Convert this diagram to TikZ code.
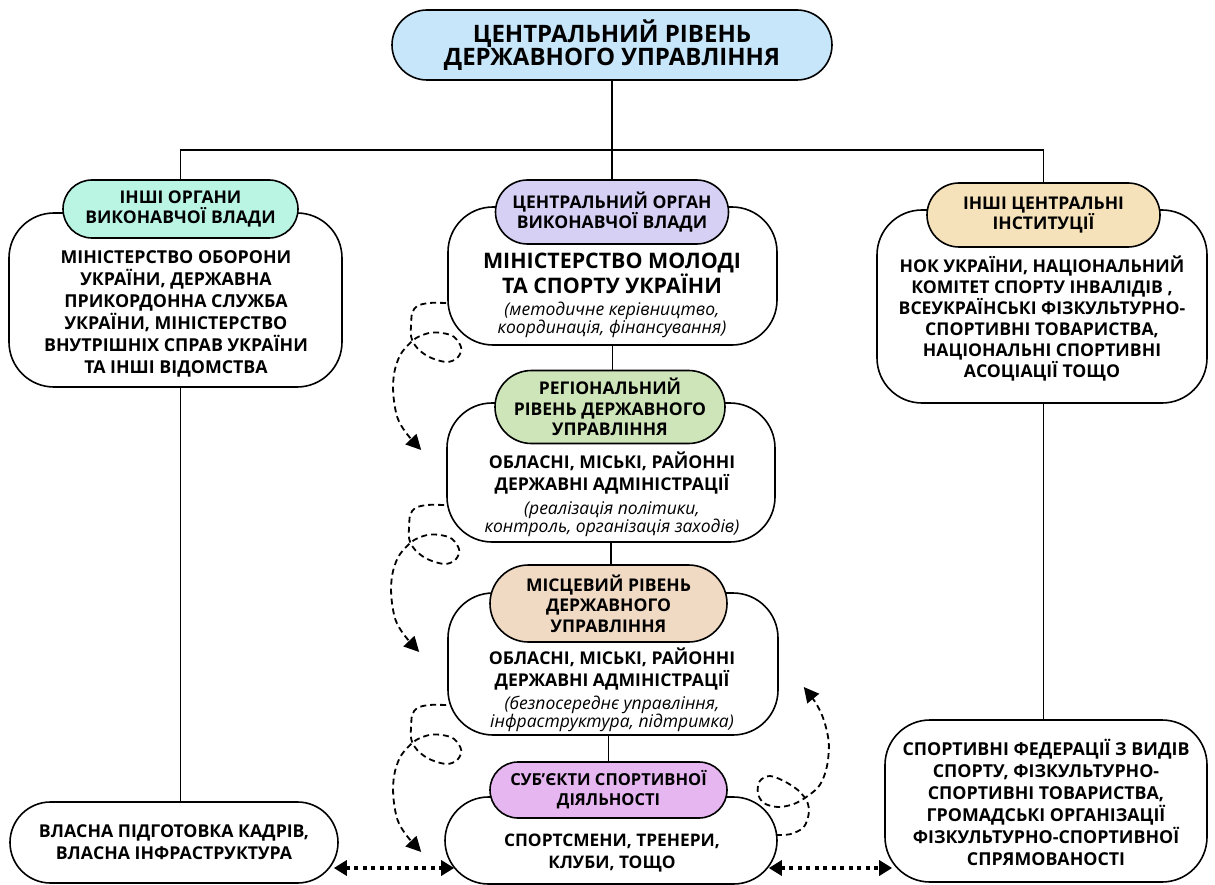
\documentclass[tikz,border=0pt]{standalone}
\usepackage{fontspec}
\setmainfont{Open Sans}
\usetikzlibrary{shapes.misc,arrows.meta,positioning,calc}
\definecolor{toplevel}{RGB}{199,230,250}
\definecolor{otherexec}{RGB}{186,245,228}
\definecolor{ministry}{RGB}{214,208,245}
\definecolor{regional}{RGB}{206,229,185}
\definecolor{local}{RGB}{240,218,196}
\definecolor{subjects}{RGB}{230,182,240}
\definecolor{institut}{RGB}{245,226,186}

\begin{document}
\begin{tikzpicture}[
    x=1pt, y=-1pt,
    pill/.style={draw, line width=1.6pt, rounded rectangle, align=center, inner sep=0pt,
        font=\fontsize{17.5}{20.5}\selectfont\bfseries},
    body/.style={draw, line width=1.6pt, rounded corners=45pt, fill=white},
    txt/.style={align=center, font=\fontsize{17.8}{22}\selectfont\bfseries},
    midtxt/.style={align=center, font=\fontsize{17.6}{21.5}\selectfont\bfseries},
    note/.style={align=center, font=\fontsize{17.5}{18.5}\selectfont\itshape},
    line/.style={line width=1.6pt},
    dotarrow/.style={<->, >={Triangle[length=13pt,width=15pt]}, line width=4pt, dash pattern=on 4pt off 4.5pt},
    curl/.style={->, >={Triangle[length=15pt,width=15pt]}, line width=1.8pt, dash pattern=on 6pt off 4pt}
]
    \useasboundingbox (0,0) rectangle (1215,885);

    % Top level
    \node[pill, fill=toplevel, minimum width=440pt, minimum height=70pt,
          font=\fontsize{24}{23}\selectfont\bfseries] (top) at (612,45)
          {ЦЕНТРАЛЬНИЙ РІВЕНЬ\\ДЕРЖАВНОГО УПРАВЛІННЯ};
    \coordinate (bus) at (612,150);

    % Left branch
    \node[body, minimum width=333pt, minimum height=174pt] (bl) at (175.5,300) {};
    \node[txt] (tl) at (176,314) {МІНІСТЕРСТВО ОБОРОНИ\\УКРАЇНИ, ДЕРЖАВНА\\ПРИКОРДОННА СЛУЖБА\\УКРАЇНИ, МІНІСТЕРСТВО\\ВНУТРІШНІХ СПРАВ УКРАЇНИ\\ТА ІНШІ ВІДОМСТВА};
    \node[pill, fill=otherexec, minimum width=235pt, minimum height=58pt] (hl) at (180.5,209) {ІНШІ ОРГАНИ\\ВИКОНАВЧОЇ ВЛАДИ};
    \node[pill, fill=white, minimum width=328pt, minimum height=81pt,
          font=\fontsize{17.7}{22}\selectfont\bfseries] (lb) at (174,842.5)
          {ВЛАСНА ПІДГОТОВКА КАДРІВ,\\ВЛАСНА ІНФРАСТРУКТУРА};

    % Middle branch
    \node[body, minimum width=329pt, minimum height=138pt] (b1) at (612.5,276) {};
    \node[txt, font=\fontsize{21.4}{25}\selectfont\bfseries] (t1) at (612,273) {МІНІСТЕРСТВО МОЛОДІ\\ТА СПОРТУ УКРАЇНИ};
    \node[note] (n1) at (612,320) {(методичне керівництво,\\координація, фінансування)};
    \node[pill, fill=ministry, minimum width=233pt, minimum height=64pt] (h1) at (612,212) {ЦЕНТРАЛЬНИЙ ОРГАН\\ВИКОНАВЧОЇ ВЛАДИ};

    \node[body, minimum width=328pt, minimum height=139pt] (b2) at (611,472.5) {};
    \node[midtxt] (t2) at (612,473) {ОБЛАСНІ, МІСЬКІ, РАЙОННІ\\ДЕРЖАВНІ АДМІНІСТРАЦІЇ};
    \node[note] (n2) at (612,519) {(реалізація політики,\\контроль, організація заходів)};
    \node[pill, fill=regional, minimum width=230pt, minimum height=73pt] (h2) at (610,407) {РЕГІОНАЛЬНИЙ\\РІВЕНЬ ДЕРЖАВНОГО\\УПРАВЛІННЯ};

    \node[body, minimum width=330pt, minimum height=142pt] (b3) at (613,664) {};
    \node[midtxt] (t3) at (612,669) {ОБЛАСНІ, МІСЬКІ, РАЙОННІ\\ДЕРЖАВНІ АДМІНІСТРАЦІЇ};
    \node[note] (n3) at (612,714) {(безпосереднє управління,\\інфраструктура, підтримка)};
    \node[pill, fill=local, minimum width=237pt, minimum height=77pt] (h3) at (608.5,603.5) {МІСЦЕВИЙ РІВЕНЬ\\ДЕРЖАВНОГО\\УПРАВЛІННЯ};

    \node[pill, fill=white, minimum width=332pt, minimum height=87pt] (b4) at (611,840.5) {};
    \node[midtxt, font=\fontsize{17.3}{21.5}\selectfont\bfseries] (t4) at (612,853) {СПОРТСМЕНИ, ТРЕНЕРИ,\\КЛУБИ, ТОЩО};
    \node[pill, fill=subjects, minimum width=237pt, minimum height=56pt,
          font=\fontsize{16.5}{20}\selectfont\bfseries] (h4) at (608.5,790) {СУБ'ЄКТИ СПОРТИВНОЇ\\ДІЯЛЬНОСТІ};

    % Right branch
    \node[body, minimum width=330pt, minimum height=193pt] (br) at (1042,306.5) {};
    \node[txt, font=\fontsize{17.6}{21}\selectfont\bfseries] (tr) at (1042,319) {НОК УКРАЇНИ, НАЦІОНАЛЬНИЙ\\КОМІТЕТ СПОРТУ ІНВАЛІДІВ ,\\ВСЕУКРАЇНСЬКІ ФІЗКУЛЬТУРНО-\\СПОРТИВНІ ТОВАРИСТВА,\\НАЦІОНАЛЬНІ СПОРТИВНІ\\АСОЦІАЦІЇ ТОЩО};
    \node[pill, fill=institut, minimum width=233pt, minimum height=64pt] (hr) at (1043.5,215) {ІНШІ ЦЕНТРАЛЬНІ\\ІНСТИТУЦІЇ};
    \node[body, minimum width=322pt, minimum height=162pt] (rb) at (1046,801) {};
    \node[txt] (trb) at (1046,802) {СПОРТИВНІ ФЕДЕРАЦІЇ З ВИДІВ\\СПОРТУ, ФІЗКУЛЬТУРНО-\\СПОРТИВНІ ТОВАРИСТВА,\\ГРОМАДСЬКІ ОРГАНІЗАЦІЇ\\ФІЗКУЛЬТУРНО-СПОРТИВНОЇ\\СПРЯМОВАНОСТІ};

    % Tree lines
    \draw[line] (top) -- (bus);
    \draw[line] (hl) |- (bus) -| (hr);
    \draw[line] (bus) -- (h1);
    \draw[line] (b1.south) -- (b1.south |- h2.north);
    \draw[line] (b2.south) -- (b2.south |- h3.north);
    \draw[line] (h4.north |- b3.south) -- (h4.north);
    \draw[line] (hl.north |- bl.south) -- (hl.north |- lb.north);
    \draw[line] (hr.north |- br.south) -- (hr.north |- rb.north);

    % Dotted links
    \draw[dotarrow] ($(lb.east)+(-5,25.5)$) -- ($(b4.west)+(10,27.5)$);
    \draw[dotarrow] ($(b4.east)+(-9,27.5)$) -- ($(rb.west)+(8,67)$);

    % Curled dashed arrows
    \coordinate (c1) at ($(b1.west)+(-1,27)$);
    \coordinate (c2) at ($(b2.west)+(-2,32.5)$);
    \coordinate (c3) at ($(b3.west)+(-1,41)$);
    \coordinate (c4) at ($(b4.east)+(-2,-5.5)$);
    \foreach \c in {c1,c2,c3}
        \draw[curl, shift={(\c)}] plot[smooth, tension=0.55] coordinates {(0,0) (-17,0) (-29,3) (-34,10) (-35,20) (-35,34) (-29,45) (-17,54) (0,59) (11,55) (15,45) (8,34) (-4,30) (-17,30) (-30,35) (-40,44) (-47,54) (-52,70) (-53,90) (-49,114) (-40,130) (-25,147)};
    \draw[curl, shift={(c4)}] plot[smooth, tension=0.55] coordinates {(0,0) (15,-1) (28,-8) (33,-22) (31,-34) (22,-45) (8,-54) (-6,-59) (-16,-54) (-18,-42) (-12,-32) (2,-28) (18,-31) (32,-39) (44,-50) (51,-68) (53,-92) (48,-115) (40,-132) (28,-148)};
\end{tikzpicture}
\end{document}
